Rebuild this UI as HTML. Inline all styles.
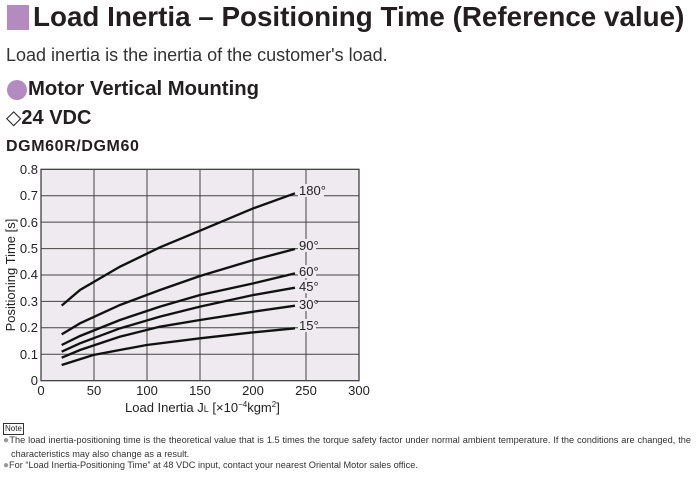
<!DOCTYPE html><html><head><style>
body{margin:0;width:696px;height:493px;background:#fff;font-family:"Liberation Sans",sans-serif;color:#231f20;position:relative;overflow:hidden}
.a{position:absolute;white-space:nowrap}
</style></head><body>
<div class="a" style="left:7px;top:5px;width:22px;height:25px;background:#b48bc0"></div>
<div class="a" style="left:33px;top:1px;font-size:27.8px;font-weight:bold">Load Inertia – Positioning Time (Reference value)</div>
<div class="a" style="left:6px;top:45px;font-size:18px;color:#333">Load inertia is the inertia of the customer's load.</div>
<div class="a" style="left:7px;top:80px;width:20px;height:20px;border-radius:50%;background:#b48bc0"></div>
<div class="a" style="left:28px;top:78px;font-size:20.3px;font-weight:bold">Motor Vertical Mounting</div>
<div class="a" style="left:6px;top:105px;font-size:20px;font-weight:bold"><span style="font-weight:normal">◇</span>24 VDC</div>
<div class="a" style="left:6px;top:138px;font-size:16px;font-weight:900;letter-spacing:0.6px">DGM60R/DGM60</div>
<svg class="a" style="left:0;top:0" width="696" height="493">
<rect x="41" y="169.3" width="318" height="211.4" fill="#efe9f0" stroke="#333" stroke-width="1.2"/>
<g stroke="#444" stroke-width="1">
<line x1="94" y1="169.3" x2="94" y2="380.7"/><line x1="147" y1="169.3" x2="147" y2="380.7"/><line x1="200" y1="169.3" x2="200" y2="380.7"/><line x1="253" y1="169.3" x2="253" y2="380.7"/><line x1="306" y1="169.3" x2="306" y2="380.7"/>
<line x1="41" y1="195.7" x2="359" y2="195.7"/><line x1="41" y1="222.1" x2="359" y2="222.1"/><line x1="41" y1="248.6" x2="359" y2="248.6"/><line x1="41" y1="275" x2="359" y2="275"/><line x1="41" y1="301.4" x2="359" y2="301.4"/><line x1="41" y1="327.8" x2="359" y2="327.8"/><line x1="41" y1="354.3" x2="359" y2="354.3"/>
</g>
<g transform="translate(0 160) scale(0.33333)" fill="none" stroke="#111" stroke-width="7">
<polyline points="185,437 240,390 360,320 480,262 600,212 760,145 885,100"/>
<polyline points="185,523 240,490 360,435 480,390 600,348 760,300 885,267"/>
<polyline points="185,555 240,528 360,480 480,440 600,405 760,370 885,340"/>
<polyline points="185,575 240,550 360,505 480,470 600,440 760,405 885,383"/>
<polyline points="185,593 240,570 360,530 480,500 600,480 760,455 885,437"/>
<polyline points="185,615 280,585 440,555 600,535 760,517 885,505"/>
</g>
<g font-size="13" fill="#222">
<rect x="298" y="184" width="26" height="13" fill="#efe9f0"/><text x="299" y="195">180°</text>
<rect x="298" y="239" width="18" height="13" fill="#efe9f0"/><text x="299" y="250">90°</text>
<rect x="298" y="265" width="18" height="13" fill="#efe9f0"/><text x="299" y="276">60°</text>
<rect x="298" y="280" width="18" height="13" fill="#efe9f0"/><text x="299" y="291">45°</text>
<rect x="298" y="298" width="18" height="13" fill="#efe9f0"/><text x="299" y="309">30°</text>
<rect x="298" y="319" width="18" height="13" fill="#efe9f0"/><text x="299" y="330">15°</text>
</g>
<g font-size="13" fill="#222" text-anchor="end">
<text x="38" y="174">0.8</text><text x="38" y="200">0.7</text><text x="38" y="227">0.6</text><text x="38" y="253">0.5</text><text x="38" y="279">0.4</text><text x="38" y="306">0.3</text><text x="38" y="332">0.2</text><text x="38" y="359">0.1</text><text x="38" y="385">0</text>
</g>
<g font-size="13" fill="#222" text-anchor="middle">
<text x="41" y="395">0</text><text x="94" y="395">50</text><text x="147" y="395">100</text><text x="200" y="395">150</text><text x="253" y="395">200</text><text x="306" y="395">250</text><text x="359" y="395">300</text>
</g>
<text x="125" y="412" font-size="13" fill="#222">Load Inertia J<tspan font-size="9">L</tspan> [×10<tspan font-size="8" dy="-5">−4</tspan><tspan dy="5">kgm</tspan><tspan font-size="8" dy="-5">2</tspan><tspan dy="5">]</tspan></text>
<text transform="translate(15 275) rotate(-90)" font-size="13" fill="#222" text-anchor="middle">Positioning Time [s]</text>
</svg>
<div class="a" style="left:3px;top:423px;font-size:8px;border:1px solid #333;padding:0 1px;line-height:10px">Note</div>
<div class="a" style="left:3px;top:434px;font-size:9.2px;color:#333;line-height:12.5px;white-space:normal;width:680px;padding-left:8px;text-indent:-8px;text-align:justify;text-align-last:left"><span style="color:#999;font-size:10px">●</span>The load inertia-positioning time is the theoretical value that is 1.5 times the torque safety factor under normal ambient temperature. If the conditions are changed, the characteristics may also change as a result.</div>
<div class="a" style="left:3px;top:459px;font-size:9.2px;color:#333;line-height:12.5px"><span style="color:#999;font-size:10px">●</span>For “Load Inertia-Positioning Time” at 48 VDC input, contact your nearest Oriental Motor sales office.</div>
</body></html>
